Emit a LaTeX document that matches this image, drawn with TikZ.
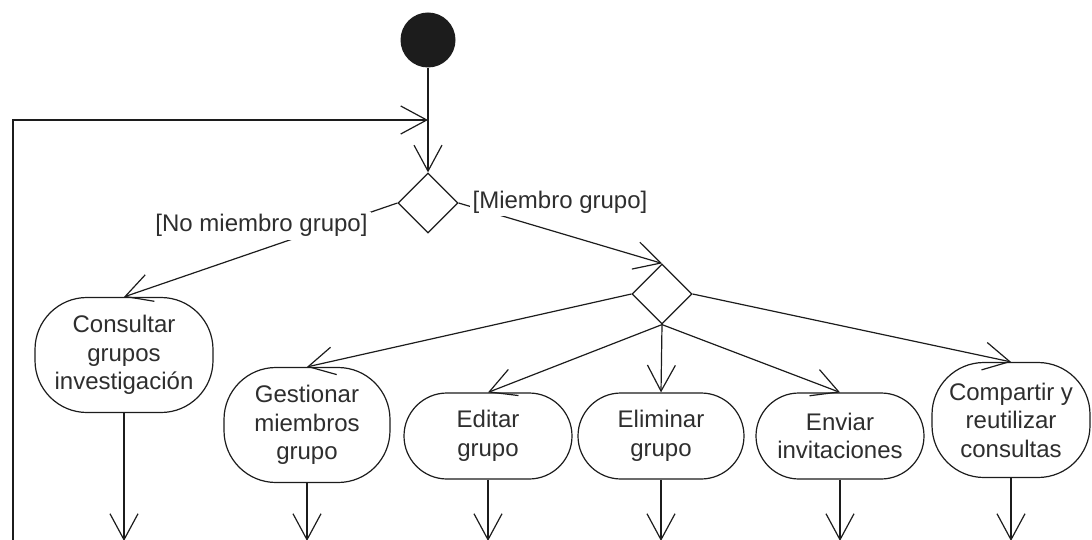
\documentclass[tikz,border=0pt]{standalone}
\usepackage{fontspec}
\setmainfont{Liberation Sans}
\usetikzlibrary{arrows.meta,shapes.geometric}
\definecolor{ln}{HTML}{1C1C1C}
\definecolor{txt}{HTML}{2E2E2E}
\begin{document}
\begin{tikzpicture}[x=1pt,y=-1pt,
  every node/.style={font=\fontsize{24}{28.5}\selectfont, text=txt},
  flow/.style={draw=ln, line width=1.2pt,
    -{Straight Barb[length=26pt,width=28pt]}},
  plain/.style={draw=ln, line width=1.2pt},
  activity/.style={draw=ln, line width=1.2pt, fill=white, align=center,
    inner sep=0pt},
  tallact/.style={activity, rounded corners=52pt, minimum height=115pt},
  shortact/.style={activity, rounded corners=43pt, minimum height=86pt},
  decision/.style={diamond, aspect=1, draw=ln, line width=1.2pt, fill=white,
    minimum width=60pt, minimum height=60pt, inner sep=0pt},
  guard/.style={fill=white, inner sep=2.5pt},
  startnode/.style={circle, fill=ln, minimum size=55pt, inner sep=0pt}]

\useasboundingbox (0,0) rectangle (1092,540);

% initial node and decisions
\node[startnode] (start) at (428,40) {};
\node[decision] (d1) at (428,203) {};
\node[decision] (d2) at (662,294) {};

% activities
\node[tallact, minimum width=178pt] (cons) at (124,355)
  {Consultar\\grupos\\investigación};
\node[tallact, minimum width=166pt] (gest) at (307,425)
  {Gestionar\\miembros\\grupo};
\node[shortact, minimum width=168pt] (edit) at (488,436) {Editar\\grupo};
\node[shortact, minimum width=166pt] (elim) at (661,436) {Eliminar\\grupo};
\node[shortact, minimum width=168pt] (envi) at (840,436) {Enviar\\invitaciones};
\node[tallact, minimum width=158pt] (comp) at (1011,420)
  {Compartir y\\reutilizar\\consultas};

% loop back and free ends
\coordinate (loopin) at (428,120);
\coordinate (loopfoot) at (13,545);
\coordinate (outcons) at (cons.south |- 0,541);
\coordinate (outgest) at (gest.south |- 0,541);
\coordinate (outedit) at (edit.south |- 0,541);
\coordinate (outelim) at (elim.south |- 0,541);
\coordinate (outenvi) at (envi.south |- 0,541);
\coordinate (outcomp) at (comp.south |- 0,541);

% connectors
\draw[plain] (start.south) -- (loopin);
\draw[flow] (loopin) -- (d1.north);
\draw[flow] (loopfoot) |- (loopin);
\draw[flow] (d1.west) -- (cons.north);
\draw[flow] (d1.east) -- (d2.north);
\draw[flow] (d2.west) -- (gest.north);
\draw[flow] (d2.south) -- (edit.north);
\draw[flow] (d2.south) -- (elim.north);
\draw[flow] (d2.south) -- (envi.north);
\draw[flow] (d2.east) -- (comp.north);
\draw[flow] (cons.south) -- (outcons);
\draw[flow] (gest.south) -- (outgest);
\draw[flow] (edit.south) -- (outedit);
\draw[flow] (elim.south) -- (outelim);
\draw[flow] (envi.south) -- (outenvi);
\draw[flow] (comp.south) -- (outcomp);

% guards
\node[guard, anchor=base, inner sep=3pt] (gno) at (261.5,232) {[No miembro grupo]};
\node[guard, anchor=base] (gyes) at (560,209) {[Miembro grupo]};
\end{tikzpicture}
\end{document}
